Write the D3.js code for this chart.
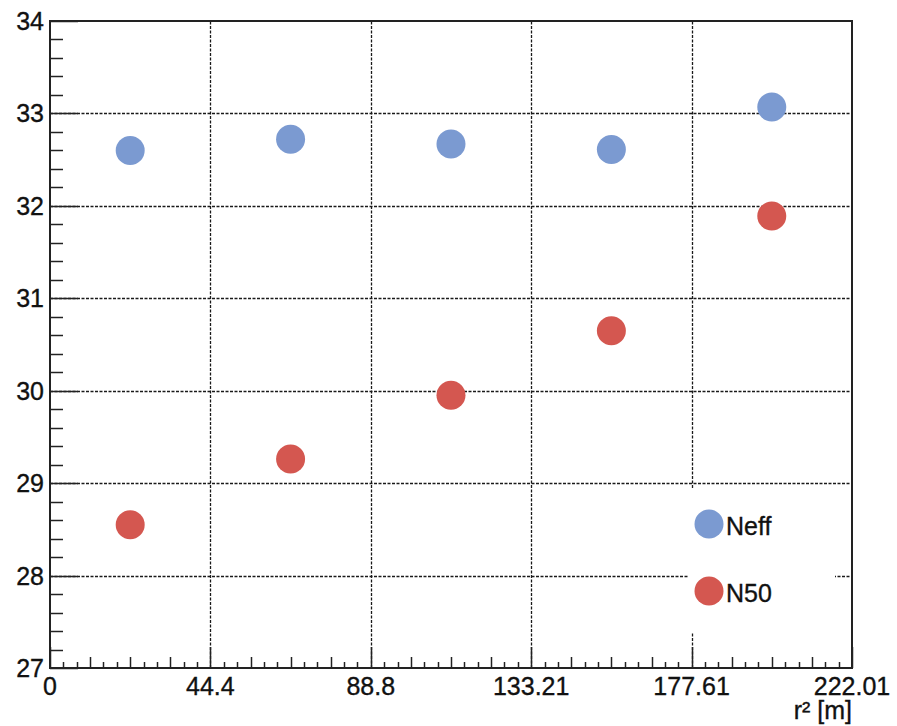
<!DOCTYPE html>
<html>
<head>
<meta charset="utf-8">
<script src="https://cdn.jsdelivr.net/npm/d3@7"></script>
<style>
  html, body { margin: 0; padding: 0; background: #fff; }
  svg { display: block; font-family: "Liberation Sans", Arial, sans-serif; }
  text { stroke: #111; stroke-width: 0.35; }
</style>
</head>
<body>
<svg id="chart" width="897" height="726"></svg>
<script>
// r^2 bin centres and the two series
const rBins = [22.2, 66.6, 111.0, 155.4, 199.8];
const neffValues = [32.60, 32.72, 32.67, 32.61, 33.07];
const n50Values = [28.55, 29.26, 29.95, 30.65, 31.89];

// axis tick labels
const xTickLabels = ["0", "44.4", "88.8", "133.21", "177.61", "222.01"];
const yTickValues = [27, 28, 29, 30, 31, 32, 33, 34];

const seriesNames = ["Neff", "N50"];
const seriesColors = ["#7b9ad1", "#d45750"];

const svg = d3.select("#chart");
const margin = { left: 50, top: 21, right: 45, bottom: 58 };
const W = 897, H = 726;
const plotW = W - margin.left - margin.right;
const plotH = H - margin.top - margin.bottom;

const xMax = 222.01;
const x = d3.scaleLinear().domain([0, xMax]).range([margin.left, margin.left + plotW]);
const y = d3.scaleLinear().domain([27, 34]).range([margin.top + plotH, margin.top]);

const xMajor = xTickLabels.map((_, i) => i * xMax / (xTickLabels.length - 1));
const xStep = xMax / (xTickLabels.length - 1);

const g = svg.append("g");

// dotted grid at the major ticks
const grid = g.append("g").attr("stroke", "#1a1a1a").attr("stroke-width", 1.3).attr("stroke-dasharray", "3,1.5");
grid.selectAll("line.gx").data(xMajor.slice(1, -1)).join("line")
  .attr("x1", d => Math.round(x(d)) + 0.5).attr("x2", d => Math.round(x(d)) + 0.5)
  .attr("y1", y(27)).attr("y2", y(34));
grid.selectAll("line.gy").data(yTickValues.slice(1, -1)).join("line")
  .attr("x1", x(0)).attr("x2", x(xMax))
  .attr("y1", d => Math.round(y(d)) + 0.5).attr("y2", d => Math.round(y(d)) + 0.5);

// y axis ticks (5 subdivisions per unit)
const yAxis = g.append("g").attr("stroke", "#222").attr("stroke-width", 1.5);
const yMinor = d3.range(27, 34.0001, 0.2).map(v => +v.toFixed(4));
yAxis.selectAll("line").data(yMinor).join("line")
  .attr("x1", x(0))
  .attr("x2", d => x(0) + (Math.abs(d - Math.round(d)) < 1e-6 ? 28 : 13))
  .attr("y1", d => Math.round(y(d)) + 0.5).attr("y2", d => Math.round(y(d)) + 0.5);

// x axis ticks (12 subdivisions per major, medium every third)
const xAxis = g.append("g").attr("stroke", "#222").attr("stroke-width", 1.5);
const xMinor = d3.range(0, 5 * 12 + 1).map(i => ({ v: i * xStep / 12, k: i % 12 === 0 ? 2 : (i % 3 === 0 ? 1 : 0) }));
xAxis.selectAll("line").data(xMinor).join("line")
  .attr("x1", d => Math.round(x(d.v)) + 0.5).attr("x2", d => Math.round(x(d.v)) + 0.5)
  .attr("y1", y(27))
  .attr("y2", d => y(27) - (d.k === 2 ? 21 : d.k === 1 ? 11 : 6));

// legend background hides the grid underneath
const legend = g.append("g");
legend.append("rect")
  .attr("x", 689).attr("y", 488).attr("width", 146).attr("height", 144)
  .attr("fill", "#fff");

// frame
g.append("rect")
  .attr("x", x(0)).attr("y", y(34))
  .attr("width", x(xMax) - x(0)).attr("height", y(27) - y(34))
  .attr("fill", "none").attr("stroke", "#222").attr("stroke-width", 2);

// data points
const series = [neffValues, n50Values];
series.forEach((vals, si) => {
  g.append("g").selectAll("circle").data(vals).join("circle")
    .attr("cx", (d, i) => x(rBins[i]))
    .attr("cy", d => y(d))
    .attr("r", 14.5)
    .attr("fill", seriesColors[si]);
});

// tick labels
const labels = g.append("g").attr("fill", "#111").attr("font-size", 25);
labels.selectAll("text.xl").data(xTickLabels).join("text")
  .attr("x", (d, i) => x(xMajor[i]))
  .attr("y", 695)
  .attr("text-anchor", "middle")
  .text(d => d);
labels.selectAll("text.yl").data(yTickValues).join("text")
  .attr("x", 44)
  .attr("y", d => y(d) + 9)
  .attr("text-anchor", "end")
  .text(d => d);

// axis title
g.append("text")
  .attr("x", x(xMax)).attr("y", 719)
  .attr("text-anchor", "end").attr("font-size", 25).attr("fill", "#111")
  .text("r² [m]");

// legend entries
const legendRows = [535, 602];
seriesNames.forEach((name, i) => {
  legend.append("circle").attr("cx", 709).attr("cy", legendRows[i] - 11).attr("r", 14.5).attr("fill", seriesColors[i]);
  legend.append("text").attr("x", 726).attr("y", legendRows[i])
    .attr("font-size", 25).attr("fill", "#111").text(name);
});
</script>
</body>
</html>
